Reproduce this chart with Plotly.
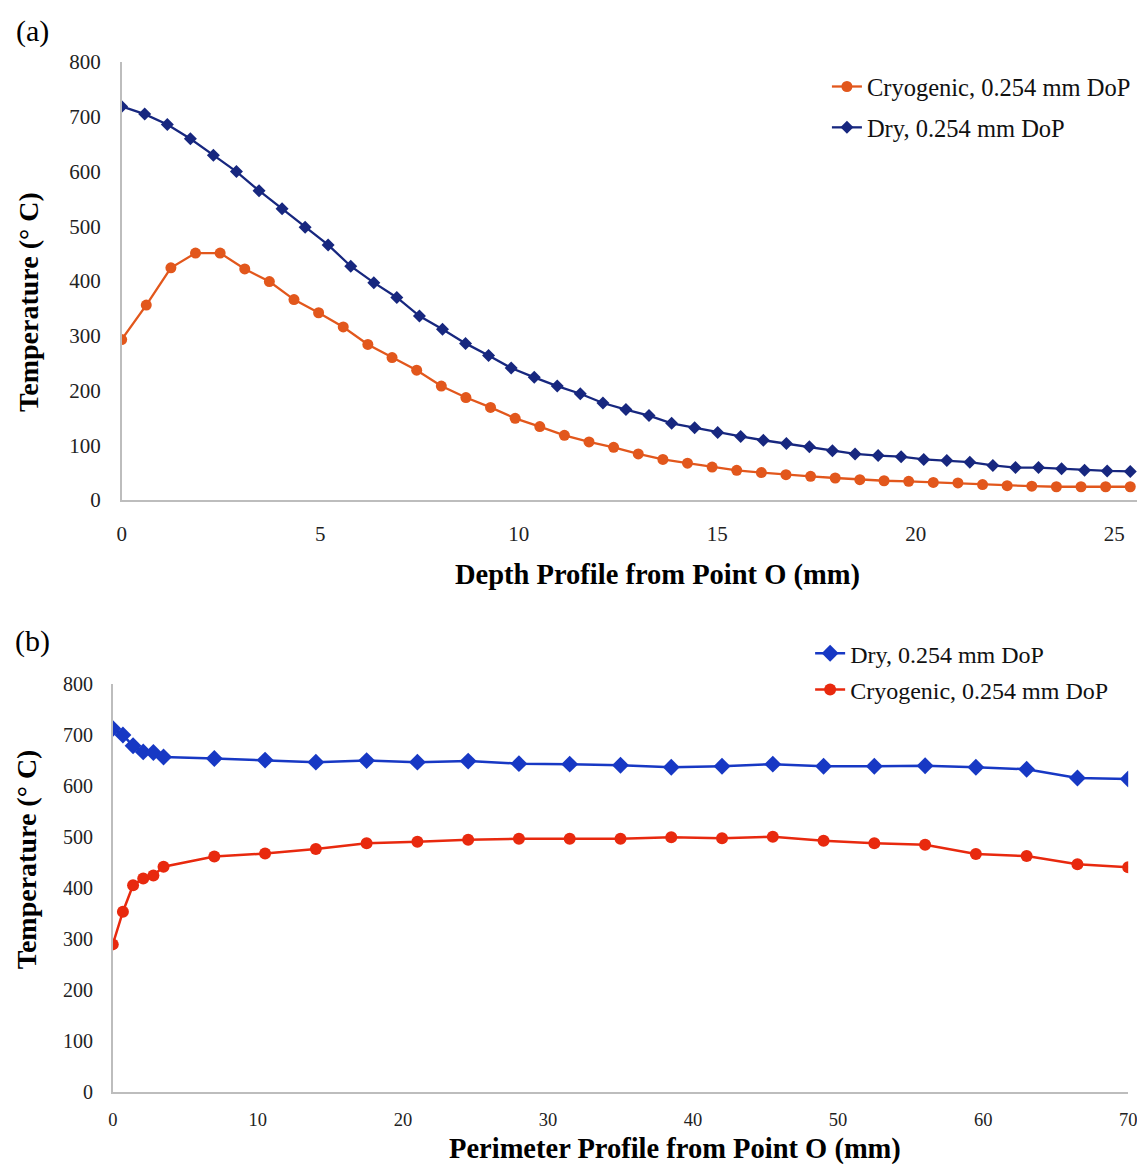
import plotly.graph_objects as go

# ---------------- data: (a) depth profile ----------------
depth_dry_x = [0.00, 0.58, 1.15, 1.73, 2.31, 2.89, 3.46, 4.04, 4.62, 5.20, 5.77, 6.35, 6.93, 7.50, 8.08,
               8.66, 9.24, 9.81, 10.39, 10.97, 11.55, 12.12, 12.70, 13.28, 13.85, 14.43, 15.01, 15.59,
               16.16, 16.74, 17.32, 17.90, 18.47, 19.05, 19.63, 20.20, 20.78, 21.36, 21.94, 22.51, 23.09,
               23.67, 24.25, 24.82, 25.40]
depth_dry_t = [719, 705, 686, 660, 630, 600, 565, 532, 498, 466, 427, 397, 370, 336, 312,
               286, 264, 241, 224, 208, 194, 177, 165, 154, 140, 132, 123, 116,
               109, 103, 97, 90, 84, 81, 79, 74, 72, 69, 63, 59, 59,
               57, 54, 53, 52]

depth_cryo_x = [0.00, 0.62, 1.24, 1.86, 2.48, 3.10, 3.72, 4.34, 4.96, 5.58, 6.20, 6.81, 7.43, 8.05,
                8.67, 9.29, 9.91, 10.53, 11.15, 11.77, 12.39, 13.01, 13.63, 14.25, 14.87, 15.49, 16.11,
                16.73, 17.35, 17.97, 18.59, 19.20, 19.82, 20.44, 21.06, 21.68, 22.30, 22.92, 23.54,
                24.16, 24.78, 25.40]
depth_cryo_t = [293, 356, 424, 451, 451, 422, 399, 366, 342, 316, 284, 260, 237, 208,
                187, 169, 149, 134, 118, 106, 96, 84, 74, 67, 60, 54, 50,
                46, 43, 40, 37, 35, 34, 32, 31, 28, 26, 25, 24,
                24, 24, 24]

# ---------------- data: (b) perimeter profile ----------------
perim_x = [0, 0.7, 1.4, 2.1, 2.8, 3.5, 7, 10.5, 14, 17.5, 21, 24.5, 28, 31.5, 35, 38.5,
           42, 45.5, 49, 52.5, 56, 59.5, 63, 66.5, 70]
perim_dry_t = [713, 700, 679, 667, 666, 657, 654, 651, 647, 650, 647, 649, 644, 643, 641, 637,
               639, 643, 639, 639, 640, 637, 633, 616, 614]
perim_cryo_t = [290, 354, 406, 419, 425, 442, 462, 468, 477, 488, 491, 495, 497, 497, 497, 500,
                498, 501, 493, 488, 485, 467, 463, 447, 441]

y_ticks = [0, 100, 200, 300, 400, 500, 600, 700, 800]
xa_ticks = [0, 5, 10, 15, 20, 25]
xb_ticks = [0, 10, 20, 30, 40, 50, 60, 70]

names_a = ["Cryogenic, 0.254 mm DoP", "Dry, 0.254 mm DoP"]
names_b = ["Dry, 0.254 mm DoP", "Cryogenic, 0.254 mm DoP"]

# ---------------- styling ----------------
W, H = 1145, 1164
SERIF = "Liberation Serif"
ORANGE_A = "#E2571C"
BLUE_A = "#17277F"
BLUE_B = "#1738C4"
RED_B = "#E8290E"
AXIS_GREY = "#BDBDBD"


def fx(p):
    """figure x pixel -> paper fraction"""
    return min(1.0, max(0.0, p / W))


def fy(p):
    """figure y pixel (from top) -> paper fraction"""
    return min(1.0, max(0.0, 1 - p / H))


fig = go.Figure()

# (a) traces
fig.add_trace(go.Scatter(x=depth_cryo_x, y=depth_cryo_t, mode="lines+markers", name=names_a[0],
                         line=dict(color=ORANGE_A, width=2.3),
                         marker=dict(symbol="circle", size=11, color=ORANGE_A),
                         xaxis="x", yaxis="y", legend="legend", legendgroup="a1"))
fig.add_trace(go.Scatter(x=depth_dry_x, y=depth_dry_t, mode="lines+markers", name=names_a[1],
                         line=dict(color=BLUE_A, width=2.3),
                         marker=dict(symbol="diamond", size=10, color=BLUE_A),
                         xaxis="x", yaxis="y", legend="legend", legendgroup="a2"))

# (b) traces
fig.add_trace(go.Scatter(x=perim_x, y=perim_dry_t, mode="lines+markers", name=names_b[0],
                         line=dict(color=BLUE_B, width=2.5),
                         marker=dict(symbol="diamond", size=13, color=BLUE_B),
                         xaxis="x2", yaxis="y2", legend="legend2", legendgroup="b1"))
fig.add_trace(go.Scatter(x=perim_x, y=perim_cryo_t, mode="lines+markers", name=names_b[1],
                         line=dict(color=RED_B, width=2.5),
                         marker=dict(symbol="circle", size=12, color=RED_B),
                         xaxis="x2", yaxis="y2", legend="legend2", legendgroup="b2"))

common_axis = dict(showgrid=False, zeroline=False, showline=True, linecolor=AXIS_GREY,
                   linewidth=1.5, ticks="", fixedrange=True)
tick_a = dict(family=SERIF, size=21, color="#222222")
tick_b = dict(family=SERIF, size=20, color="#222222")
tick_bx = dict(family=SERIF, size=18.5, color="#222222")

# plot-area geometry (figure pixels)
A_LEFT, A_RIGHT, A_TOP, A_BOTTOM = 110, W, 43, 490
A_PX_PER_MM = 40.2
B_LEFT, B_RIGHT, B_TOP, B_BOTTOM = 101, 1129, 678, 1095

fig.update_layout(
    width=W, height=H,
    margin=dict(l=0, r=0, t=0, b=0),
    paper_bgcolor="white", plot_bgcolor="white",
    xaxis=dict(domain=[fx(A_LEFT), fx(A_RIGHT)],
               range=[0, (A_RIGHT - A_LEFT) / A_PX_PER_MM], tickvals=xa_ticks,
               anchor="y", ticklabelstandoff=14, tickfont=tick_a, **common_axis),
    yaxis=dict(domain=[fy(A_BOTTOM), fy(A_TOP)], range=[0, 800], tickvals=y_ticks,
               anchor="x", ticklabelstandoff=15, tickfont=tick_a, **common_axis),
    xaxis2=dict(domain=[fx(B_LEFT), fx(B_RIGHT)], range=[0, 70], tickvals=xb_ticks,
                anchor="y2", ticklabelstandoff=10, tickfont=tick_bx, **common_axis),
    yaxis2=dict(domain=[fy(B_BOTTOM), fy(B_TOP)], range=[0, 800], tickvals=y_ticks,
                anchor="x2", ticklabelstandoff=14, tickfont=tick_b, **common_axis),
    legend=dict(x=fx(824), y=fy(45), xanchor="left", yanchor="top",
                font=dict(family=SERIF, size=24.5, color="#111111"),
                bgcolor="rgba(0,0,0,0)", tracegroupgap=6, traceorder="grouped",
                itemwidth=30),
    legend2=dict(x=fx(807), y=fy(624), xanchor="left", yanchor="top",
                 font=dict(family=SERIF, size=24, color="#111111"),
                 bgcolor="rgba(0,0,0,0)", tracegroupgap=2, traceorder="grouped",
                 itemwidth=30),
    showlegend=True,
)

title_font = dict(family=SERIF, size=28.5, color="black")
annotations = [
    dict(text="(a)", x=fx(1), y=fy(11), xanchor="left", yanchor="middle",
         font=dict(family=SERIF, size=30, color="black")),
    dict(text="(b)", x=fx(0), y=fy(634), xanchor="left", yanchor="middle",
         font=dict(family=SERIF, size=30, color="black")),
    dict(text="<b>Depth Profile from Point O (mm)</b>", x=fx(652), y=fy(567),
         xanchor="center", yanchor="middle", font=title_font),
    dict(text="<b>Perimeter Profile from Point O (mm)</b>", x=fx(670), y=fy(1153),
         xanchor="center", yanchor="middle", font=title_font, borderpad=0),
    dict(text="<b>Temperature (° C)</b>", x=fx(15), y=fy(288), textangle=-90,
         xanchor="center", yanchor="middle", font=dict(family=SERIF, size=28, color="black")),
    dict(text="<b>Temperature (° C)</b>", x=fx(13), y=fy(857), textangle=-90,
         xanchor="center", yanchor="middle", font=dict(family=SERIF, size=28, color="black")),
]
for a in annotations:
    a.update(xref="paper", yref="paper", showarrow=False)
fig.update_layout(annotations=annotations)

fig.write_html("out.html")
